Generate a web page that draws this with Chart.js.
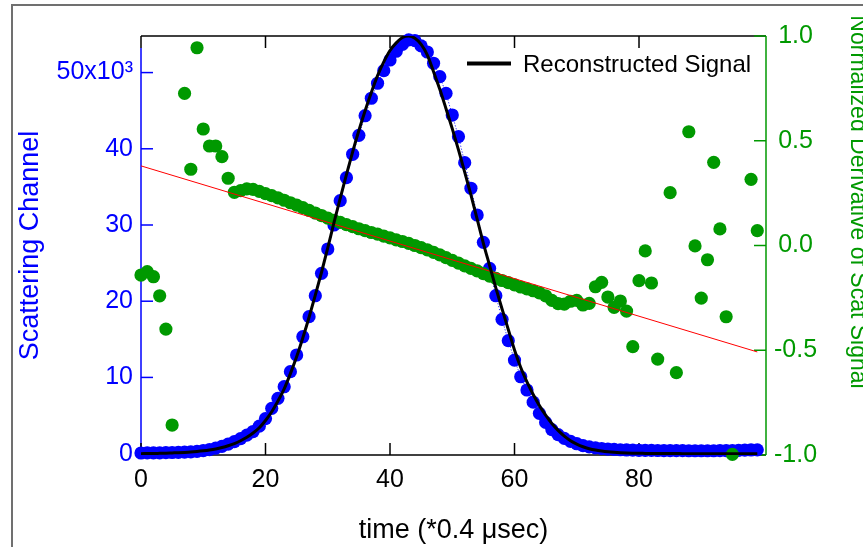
<!DOCTYPE html>
<html>
<head>
<meta charset="utf-8">
<script src="https://cdn.jsdelivr.net/npm/chart.js@4.4.1/dist/chart.umd.min.js"></script>
<style>
  html, body { margin: 0; padding: 0; background: #fff; }
  canvas { display: block; }
</style>
</head>
<body>
<canvas id="chart" width="863" height="547"></canvas>
<script>
// sample index (time in units of 0.4 usec)
const time = [
  0, 1, 2, 3, 4, 5, 6, 7, 8, 9,
  10, 11, 12, 13, 14, 15, 16, 17, 18, 19,
  20, 21, 22, 23, 24, 25, 26, 27, 28, 29,
  30, 31, 32, 33, 34, 35, 36, 37, 38, 39,
  40, 41, 42, 43, 44, 45, 46, 47, 48, 49,
  50, 51, 52, 53, 54, 55, 56, 57, 58, 59,
  60, 61, 62, 63, 64, 65, 66, 67, 68, 69,
  70, 71, 72, 73, 74, 75, 76, 77, 78, 79,
  80, 81, 82, 83, 84, 85, 86, 87, 88, 89,
  90, 91, 92, 93, 94, 95, 96, 97, 98, 99
];

// scattering channel (left axis, blue dots)
const scatChannel = [
  80, 90, 100, 110, 130, 150, 170, 200, 240, 300,
  400, 530, 720, 960, 1250, 1580, 1970, 2420, 2900, 3600,
  4600, 5940, 7260, 8780, 10750, 12940, 15340, 17970, 20720, 23660,
  26850, 30000, 33190, 36210, 39280, 41770, 44340, 46630, 48600, 50250,
  51650, 52800, 53700, 54300, 54200, 53500, 52700, 51220, 49460, 47280,
  44430, 41590, 38180, 34820, 31310, 27730, 24310, 20720, 17620, 14820,
  12280, 10090, 8350, 6750, 5290, 4100, 3150, 2500, 2000, 1600,
  1300, 1050, 880, 760, 670, 600, 550, 510, 480, 460,
  440, 430, 420, 410, 400, 400, 390, 390, 380, 380,
  380, 380, 380, 390, 400, 410, 430, 460, 480, 500
];

// reconstructed signal (left axis, black line)
const reconstructed = [
  0, 10, 20, 40, 60, 90, 120, 160, 210, 280,
  370, 480, 620, 800, 1030, 1320, 1690, 2150, 2700, 3400,
  4350, 5500, 6900, 8500, 10500, 12700, 15200, 17900, 20800, 23800,
  27000, 30300, 33500, 36600, 39600, 42400, 45000, 47400, 49600, 51400,
  52900, 53900, 54600, 54800, 54500, 53700, 52300, 50100, 47800, 45260,
  42640, 39850, 36950, 33950, 30770, 27600, 24680, 21760, 18980, 16290,
  13600, 11300, 9400, 7750, 6300, 5050, 3950, 3050, 2300, 1700,
  1250, 900, 650, 470, 340, 240, 170, 120, 85, 60,
  40, 30, 20, 15, 10, 5, 5, 0, 0, 0,
  0, 0, 0, 0, 0, 0, 0, 0, 0, 0
];

// normalized derivative of scat signal (right axis, green dots)
const derivative = [
  -0.141, -0.125, -0.149, -0.240, -0.399, -0.857, null, 0.726, 0.364, 0.944,
  0.556, 0.475, 0.475, 0.424, 0.321, 0.254, 0.262, 0.270, 0.268, 0.258,
  0.248, 0.238, 0.227, 0.216, 0.204, 0.193, 0.181, 0.168, 0.155, 0.143,
  0.131, 0.120, 0.110, 0.100, 0.090, 0.080, 0.071, 0.062, 0.054, 0.045,
  0.036, 0.027, 0.019, 0.010, 0.000, -0.010, -0.021, -0.033, -0.045, -0.058,
  -0.071, -0.084, -0.097, -0.109, -0.121, -0.134, -0.146, -0.157, -0.167, -0.177,
  -0.188, -0.198, -0.207, -0.216, -0.226, -0.240, -0.262, -0.277, -0.280, -0.266,
  -0.262, -0.284, -0.276, -0.197, -0.176, -0.246, -0.295, -0.265, -0.313, -0.483,
  -0.168, -0.026, -0.179, -0.542, null, 0.252, -0.607, null, 0.543, -0.002,
  -0.251, -0.068, 0.397, 0.079, -0.340, -0.997, null, null, 0.316, 0.071
];

// linear fit of the derivative (red line)
const fitTime = [0, 99];
const fitValues = [0.38, -0.508];

const xTicks = [0, 20, 40, 60, 80];
const leftTicks = [0, 10000, 20000, 30000, 40000, 50000];
const rightTicks = [-1, -0.5, 0, 0.5, 1];

const BLUE = '#0000ff', GREEN = '#009900', RED = '#ff0000';
const FONT = "'Liberation Sans', Arial, sans-serif";
Chart.defaults.font.family = FONT;

const pts = (xs, ys) => xs.map((x, i) => ({ x: x, y: ys[i] }));

// Igor-style frame: inward ticks, coloured axis lines, mirrored top ticks
const igorAxes = {
  id: 'igorAxes',
  beforeDraw(chart) {
    const ctx = chart.ctx;
    ctx.save();
    ctx.fillStyle = '#fff';
    ctx.fillRect(0, 0, chart.width, chart.height);
    ctx.strokeStyle = '#707070';
    ctx.lineWidth = 2;
    ctx.beginPath();
    ctx.moveTo(12, chart.height);
    ctx.lineTo(12, 5);
    ctx.lineTo(chart.width, 5);
    ctx.stroke();
    ctx.restore();
  },
  beforeDatasetsDraw(chart) {
    const { ctx, chartArea: a, scales } = chart;
    const len = 12;
    const line = (x1, y1, x2, y2, c) => {
      ctx.strokeStyle = c;
      ctx.beginPath();
      ctx.moveTo(x1, y1);
      ctx.lineTo(x2, y2);
      ctx.stroke();
    };
    ctx.save();
    ctx.lineWidth = 1.5;
    line(a.left, a.top, a.right, a.top, '#000');
    line(a.left, a.bottom, a.right, a.bottom, '#000');
    line(a.left, a.top, a.left, a.top + 12, '#000');
    line(a.left, a.top + 12, a.left, a.bottom, BLUE);
    line(a.right, a.top, a.right, a.bottom, GREEN);
    scales.x.ticks.forEach(t => {
      const px = scales.x.getPixelForValue(t.value);
      line(px, a.bottom, px, a.bottom - len, '#000');
      if (t.value > 0) line(px, a.top, px, a.top + len, '#000');
    });
    scales.y.ticks.forEach(t => {
      const py = scales.y.getPixelForValue(t.value);
      line(a.left, py, a.left + len, py, BLUE);
    });
    scales.y2.ticks.forEach(t => {
      const py = scales.y2.getPixelForValue(t.value);
      line(a.right, py, a.right - len, py, GREEN);
    });
    ctx.restore();
  },
  afterDraw(chart) {
    const ctx = chart.ctx;
    ctx.save();
    // legend in the top right corner of the plot
    ctx.strokeStyle = '#000';
    ctx.lineWidth = 4;
    ctx.beginPath();
    ctx.moveTo(467, 63.5);
    ctx.lineTo(511, 63.5);
    ctx.stroke();
    ctx.font = '24px ' + FONT;
    ctx.fillStyle = '#000';
    ctx.textAlign = 'left';
    ctx.textBaseline = 'alphabetic';
    ctx.fillText(chart.data.datasets[0].label, 523, 72);
    // right axis title sits off-centre and runs past the window edge
    ctx.font = '23px ' + FONT;
    ctx.translate(851, 202);
    ctx.rotate(Math.PI / 2);
    ctx.fillStyle = GREEN;
    ctx.textAlign = 'center';
    ctx.fillText('Normalized Derivative of Scat Signal', 0, 0);
    ctx.restore();
  }
};

new Chart(document.getElementById('chart'), {
  type: 'scatter',
  data: {
    datasets: [
      {
        label: 'Reconstructed Signal',
        data: pts(time, reconstructed),
        yAxisID: 'y',
        showLine: true,
        borderColor: '#000',
        backgroundColor: '#000',
        borderWidth: 3,
        pointRadius: 0,
        cubicInterpolationMode: 'monotone'
      },
      {
        label: 'fit',
        data: pts(fitTime, fitValues),
        yAxisID: 'y2',
        showLine: true,
        borderColor: RED,
        borderWidth: 1,
        pointRadius: 0
      },
      {
        label: 'derivative',
        data: pts(time, derivative),
        yAxisID: 'y2',
        backgroundColor: GREEN,
        pointRadius: 6.6,
        pointBorderWidth: 0,
        clip: false
      },
      {
        label: 'scattering',
        data: pts(time, scatChannel),
        yAxisID: 'y',
        showLine: true,
        borderColor: BLUE,
        borderWidth: 1,
        borderDash: [1, 2],
        backgroundColor: BLUE,
        pointRadius: 6.6,
        pointBorderWidth: 0,
        clip: false
      }
    ]
  },
  options: {
    responsive: false,
    animation: false,
    layout: { padding: { top: 36, left: 0, right: 0, bottom: 0 } },
    scales: {
      x: {
        type: 'linear',
        min: 0,
        max: 100.4,
        grid: { display: false, drawTicks: false },
        border: { display: false },
        afterBuildTicks: s => { s.ticks = xTicks.map(v => ({ value: v })); },
        afterFit: s => { s.height = 92; },
        ticks: { color: '#000', padding: 10, font: { size: 25 } },
        title: {
          display: true,
          text: 'time (*0.4 \u03bcsec)',
          color: '#000',
          font: { size: 27 },
          padding: { top: 0, bottom: 0 }
        }
      },
      y: {
        position: 'left',
        min: -180,
        max: 54800,
        grid: { display: false, drawTicks: false },
        border: { display: false },
        afterBuildTicks: s => { s.ticks = leftTicks.map(v => ({ value: v })); },
        afterFit: s => { s.width = 141; },
        ticks: {
          color: BLUE,
          padding: 8,
          font: { size: 25 },
          callback: v => v === 50000 ? '50x10\u00b3' : String(v / 1000)
        },
        title: {
          display: true,
          text: 'Scattering Channel',
          color: BLUE,
          font: { size: 27 },
          padding: { top: 14, bottom: 0 }
        }
      },
      y2: {
        position: 'right',
        min: -1,
        max: 1,
        grid: { display: false, drawTicks: false },
        border: { display: false },
        afterBuildTicks: s => { s.ticks = rightTicks.map(v => ({ value: v })); },
        afterFit: s => { s.width = 97; },
        ticks: {
          color: GREEN,
          padding: 8,
          crossAlign: 'center',
          font: { size: 25 },
          callback: v => v.toFixed(1)
        }
      }
    },
    plugins: {
      tooltip: { enabled: false },
      legend: { display: false }
    }
  },
  plugins: [igorAxes]
});
</script>
</body>
</html>
